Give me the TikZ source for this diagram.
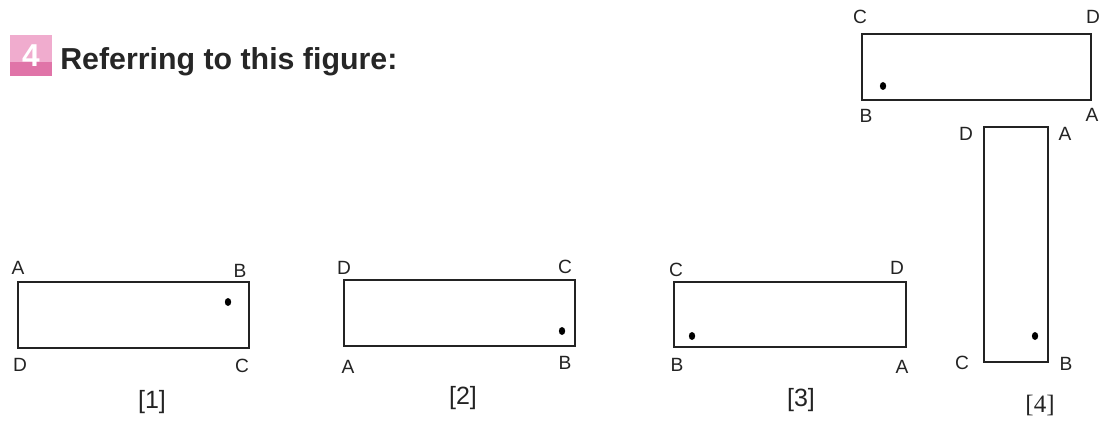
\documentclass[tikz,border=0pt]{standalone}
\usepackage{fontspec}
\setmainfont{Liberation Sans}
\newfontfamily\numserif{Liberation Serif}
\usepackage{xcolor}
\usepackage{tikz}
\usetikzlibrary{positioning,shapes.geometric}
\definecolor{tagpinklight}{RGB}{240,172,206}
\definecolor{tagpinkdark}{RGB}{224,116,168}
\definecolor{inkgray}{RGB}{35,35,35}

\begin{document}
\begin{tikzpicture}[x=0.6pt,y=-0.6pt,
  box/.style={draw=inkgray,line width=1pt},
  lab/.style={inner sep=0pt,font=\fontsize{11.5}{13}\selectfont,text=inkgray},
  num/.style={inner sep=0pt,font=\fontsize{15}{17}\selectfont,text=inkgray},
  dot/.style={fill=black,ellipse,minimum width=3.8pt,minimum height=4.8pt,inner sep=0pt}
]
\useasboundingbox (0,0) rectangle (1100,424);
% heading
\fill[tagpinklight] (10,35) rectangle (52,62);
\fill[tagpinkdark] (10,62) rectangle (52,76);
\node[inner sep=0pt,text=white,font=\fontsize{19}{21}\selectfont\bfseries] (tag) at (31,56) {4};
\node[inner sep=0pt,anchor=west,font=\fontsize{18.2}{20}\selectfont\bfseries,text=black!85] (title) at (60,62) {Referring to this figure:};
% given figure
\draw[box] (862,34) rectangle (1091,100);
\node[lab] (c0) at (860,17) {C};
\node[lab] (d0) at (1093,17) {D};
\node[lab] (b0) at (866,116) {B};
\node[lab] (a0) at (1092,115) {A};
\node[dot] (p0) at (883,86) {};
% option 1
\draw[box] (18,282) rectangle (249,348);
\node[lab] (a1) at (18,268) {A};
\node[lab] (b1) at (240,271) {B};
\node[lab] (d1) at (20,365) {D};
\node[lab] (c1) at (242,366) {C};
\node[dot] (p1) at (228,302) {};
\node[num] (n1) at (152,402) {[1]};
% option 2
\draw[box] (344,280) rectangle (575,346);
\node[lab] (d2) at (344,268) {D};
\node[lab] (c2) at (565,267) {C};
\node[lab] (a2) at (348,367) {A};
\node[lab] (b2) at (565,363) {B};
\node[dot] (p2) at (562,331) {};
\node[num] (n2) at (463,398) {[2]};
% option 3
\draw[box] (674,282) rectangle (906,347);
\node[lab] (c3) at (676,270) {C};
\node[lab] (d3) at (897,268) {D};
\node[lab] (b3) at (677,365) {B};
\node[lab] (a3) at (902,367) {A};
\node[dot] (p3) at (692,336) {};
\node[num] (n3) at (801,400) {[3]};
% option 4
\draw[box] (984,127) rectangle (1048,362);
\node[lab] (d4) at (966,134) {D};
\node[lab] (a4) at (1065,134) {A};
\node[lab] (c4) at (962,363) {C};
\node[lab] (b4) at (1066,364) {B};
\node[dot] (p4) at (1035,336) {};
\node[num,font=\numserif\fontsize{15}{17}\selectfont] (n4) at (1040,405) {[4]};
\end{tikzpicture}
\end{document}
